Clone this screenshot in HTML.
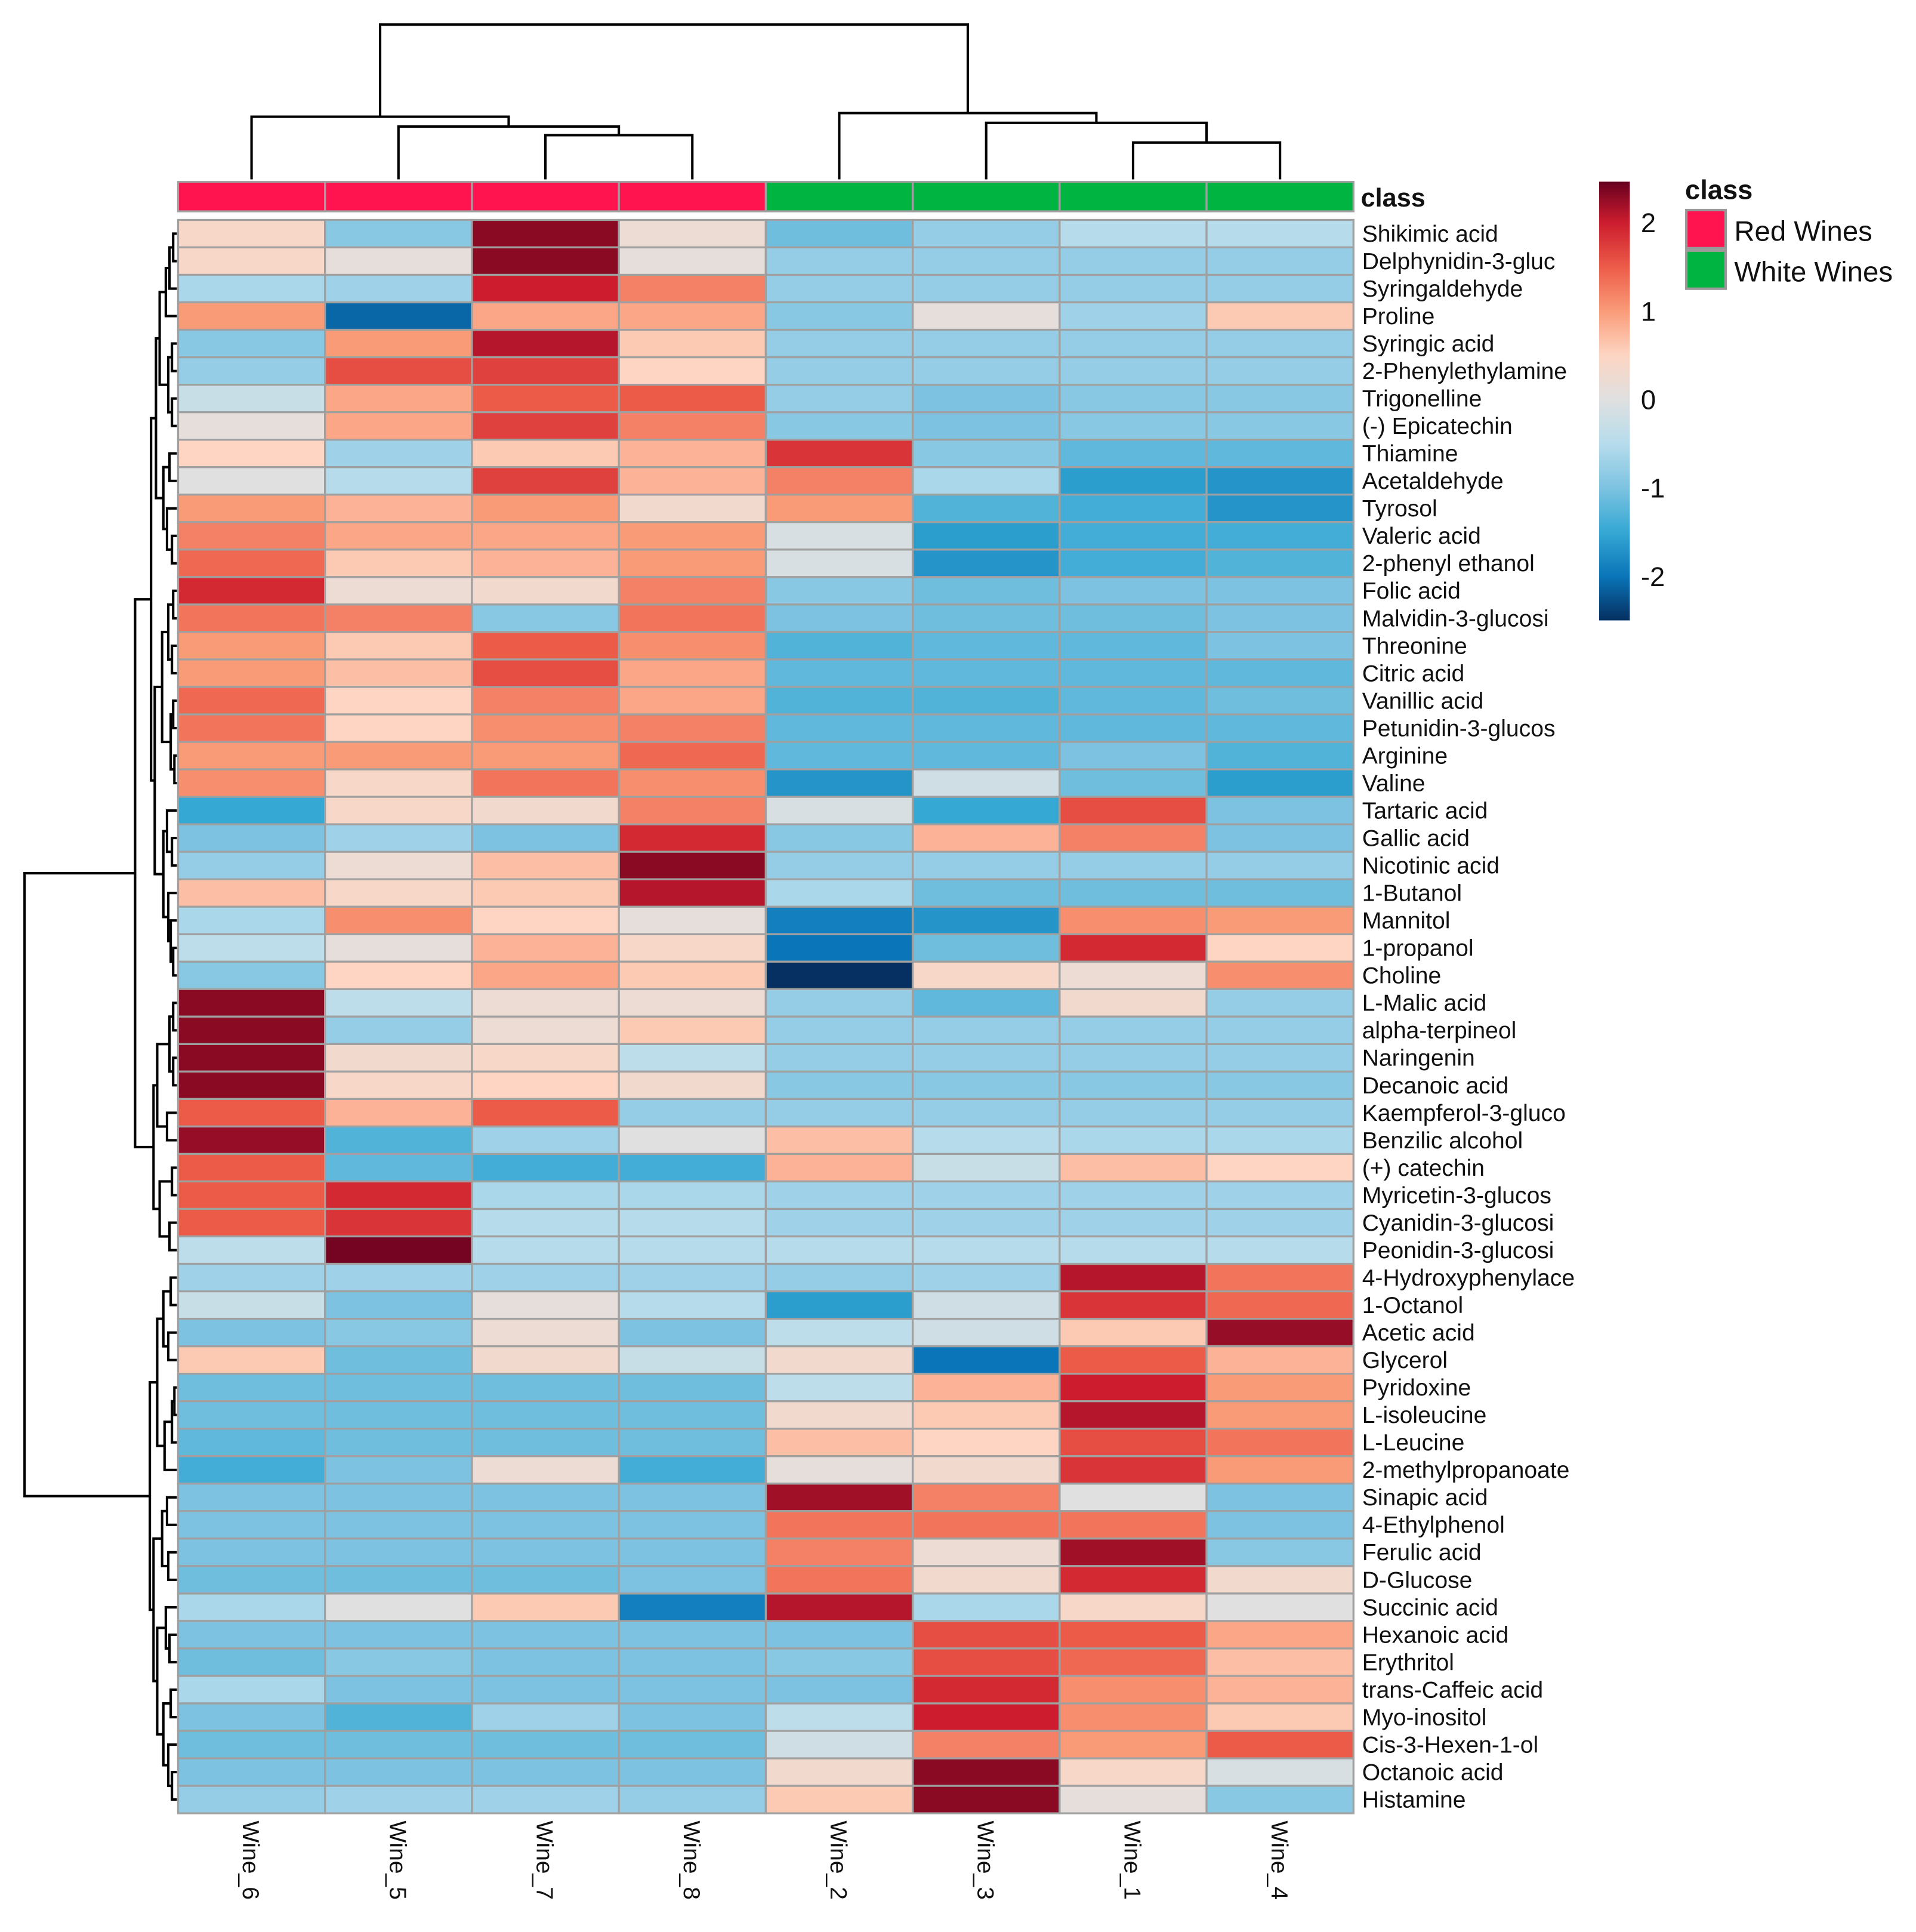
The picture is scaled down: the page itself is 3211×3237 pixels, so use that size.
<!DOCTYPE html>
<html><head><meta charset="utf-8"><title>Wine heatmap</title>
<style>html,body{margin:0;padding:0;background:#fff}svg{display:block}text{font-family:"Liberation Sans",sans-serif;fill:#111}</style>
</head><body>
<svg id="chart" width="3211" height="3237" viewBox="0 0 1560 1572.6" xmlns="http://www.w3.org/2000/svg">
<defs><linearGradient id="cbar" x1="0" y1="1" x2="0" y2="0"></linearGradient></defs>
<g id="dendro-rows"></g>
<g id="dendro-cols"></g>
<g id="classbar"></g>
<g id="cells"></g>
<g id="rowlabels"></g>
<g id="collabels"></g>
<text x="1108" y="168" font-size="21" font-weight="bold">class</text>
<g id="legend"></g>
<g>
<text x="1372" y="162" font-size="22" font-weight="bold">class</text>
<rect x="1373" y="171" width="32" height="31" fill="#FF1450" stroke="#999" stroke-width="2"/>
<rect x="1373" y="204" width="32" height="31" fill="#00B441" stroke="#999" stroke-width="2"/>
<text x="1412" y="196" font-size="23">Red Wines</text>
<text x="1412" y="229" font-size="23">White Wines</text>
</g>
</svg>
<script>
const columns = ["Wine_6","Wine_5","Wine_7","Wine_8","Wine_2","Wine_3","Wine_1","Wine_4"];
const classes = ["Red","Red","Red","Red","White","White","White","White"];
const rows = ["Shikimic acid","Delphynidin-3-gluc","Syringaldehyde","Proline","Syringic acid","2-Phenylethylamine","Trigonelline","(-) Epicatechin","Thiamine","Acetaldehyde","Tyrosol","Valeric acid","2-phenyl ethanol","Folic acid","Malvidin-3-glucosi","Threonine","Citric acid","Vanillic acid","Petunidin-3-glucos","Arginine","Valine","Tartaric acid","Gallic acid","Nicotinic acid","1-Butanol","Mannitol","1-propanol","Choline","L-Malic acid","alpha-terpineol","Naringenin","Decanoic acid","Kaempferol-3-gluco","Benzilic alcohol","(+) catechin","Myricetin-3-glucos","Cyanidin-3-glucosi","Peonidin-3-glucosi","4-Hydroxyphenylace","1-Octanol","Acetic acid","Glycerol","Pyridoxine","L-isoleucine","L-Leucine","2-methylpropanoate","Sinapic acid","4-Ethylphenol","Ferulic acid","D-Glucose","Succinic acid","Hexanoic acid","Erythritol","trans-Caffeic acid","Myo-inositol","Cis-3-Hexen-1-ol","Octanoic acid","Histamine"];
const values = [
[0.4,-0.9,2.3,0.2,-1.1,-0.8,-0.5,-0.5],
[0.4,0.1,2.3,0.1,-0.8,-0.8,-0.8,-0.8],
[-0.6,-0.7,2.0,1.2,-0.8,-0.8,-0.8,-0.8],
[1.0,-2.1,0.9,0.9,-0.9,0.1,-0.7,0.6],
[-0.9,1.0,2.1,0.6,-0.8,-0.8,-0.8,-0.8],
[-0.8,1.6,1.7,0.5,-0.8,-0.8,-0.8,-0.8],
[-0.3,0.9,1.5,1.5,-0.8,-1.0,-0.9,-0.9],
[0.1,0.9,1.7,1.2,-0.9,-1.0,-0.9,-0.9],
[0.5,-0.7,0.6,0.8,1.8,-0.9,-1.2,-1.2],
[0.0,-0.5,1.7,0.8,1.2,-0.6,-1.6,-1.7],
[1.0,0.8,1.0,0.3,1.0,-1.3,-1.4,-1.7],
[1.2,0.9,0.9,1.0,-0.1,-1.6,-1.4,-1.4],
[1.4,0.6,0.8,1.0,-0.1,-1.7,-1.4,-1.3],
[1.9,0.2,0.3,1.2,-0.9,-1.1,-1.0,-1.0],
[1.3,1.2,-0.9,1.3,-1.0,-1.1,-1.1,-1.0],
[1.0,0.6,1.5,1.1,-1.3,-1.2,-1.2,-1.0],
[1.0,0.7,1.6,0.9,-1.2,-1.2,-1.2,-1.2],
[1.4,0.5,1.2,0.9,-1.3,-1.3,-1.2,-1.1],
[1.3,0.5,1.1,1.2,-1.2,-1.2,-1.2,-1.2],
[1.0,1.0,1.0,1.4,-1.2,-1.2,-1.0,-1.3],
[1.1,0.4,1.3,1.1,-1.7,-0.2,-1.1,-1.6],
[-1.5,0.4,0.3,1.2,-0.1,-1.5,1.6,-1.0],
[-1.0,-0.7,-1.0,1.9,-0.9,0.8,1.2,-1.0],
[-0.8,0.2,0.7,2.3,-0.8,-0.8,-0.8,-0.8],
[0.7,0.4,0.6,2.1,-0.6,-1.1,-1.1,-1.1],
[-0.6,1.1,0.5,0.1,-1.9,-1.7,1.1,1.0],
[-0.4,0.1,0.8,0.4,-2.0,-1.1,1.9,0.5],
[-0.9,0.5,0.9,0.6,-2.5,0.4,0.2,1.1],
[2.3,-0.4,0.2,0.2,-0.8,-1.2,0.3,-0.8],
[2.3,-0.8,0.2,0.6,-0.8,-0.8,-0.8,-0.8],
[2.3,0.3,0.4,-0.4,-0.8,-0.8,-0.8,-0.8],
[2.3,0.4,0.5,0.3,-0.9,-0.9,-0.9,-0.9],
[1.5,0.8,1.5,-0.8,-0.8,-0.8,-0.8,-0.8],
[2.25,-1.3,-0.7,0.0,0.7,-0.5,-0.6,-0.6],
[1.5,-1.2,-1.4,-1.4,0.8,-0.3,0.7,0.5],
[1.5,1.9,-0.6,-0.6,-0.7,-0.7,-0.7,-0.7],
[1.5,1.8,-0.5,-0.5,-0.7,-0.7,-0.7,-0.7],
[-0.4,2.4,-0.5,-0.5,-0.5,-0.5,-0.5,-0.5],
[-0.7,-0.7,-0.7,-0.7,-0.8,-0.7,2.1,1.3],
[-0.3,-1.0,0.1,-0.5,-1.6,-0.2,1.8,1.4],
[-1.0,-0.9,0.2,-1.0,-0.4,-0.2,0.6,2.25],
[0.6,-1.1,0.3,-0.3,0.3,-2.0,1.5,0.8],
[-1.1,-1.1,-1.1,-1.1,-0.4,0.8,2.0,1.0],
[-1.1,-1.1,-1.1,-1.1,0.3,0.6,2.1,1.0],
[-1.2,-1.1,-1.1,-1.1,0.7,0.5,1.6,1.3],
[-1.4,-1.0,0.2,-1.4,0.1,0.3,1.8,1.0],
[-1.0,-1.0,-1.0,-1.0,2.2,1.2,0.0,-1.0],
[-1.0,-1.0,-1.0,-1.0,1.3,1.3,1.3,-1.0],
[-1.0,-1.0,-1.0,-1.0,1.2,0.2,2.2,-0.9],
[-1.1,-1.1,-1.1,-1.0,1.3,0.3,1.9,0.3],
[-0.6,0.0,0.6,-1.9,2.1,-0.6,0.4,0.0],
[-1.0,-1.0,-1.0,-1.0,-1.0,1.6,1.5,0.9],
[-1.1,-0.9,-1.0,-1.0,-0.9,1.6,1.4,0.7],
[-0.6,-1.0,-1.0,-1.0,-1.0,1.9,1.1,0.8],
[-1.0,-1.3,-0.7,-1.0,-0.4,2.0,1.1,0.6],
[-1.1,-1.1,-1.1,-1.1,-0.2,1.2,1.0,1.5],
[-1.0,-1.0,-1.0,-1.0,0.3,2.3,0.4,-0.1],
[-0.8,-0.7,-0.7,-0.8,0.6,2.3,0.1,-0.9]
];
const legendTicks = [2,1,0,-1,-2];
// column tree: [height, left, right]; leaves are column indices
const colTree = [20,[95,0,[103,1,[110,2,3]]],[92,4,[100,5,[116,6,7]]]];
const rowTree = [20,
 [110,
  [123,
   [127,[130,[135,[138,[141,0,1],2],3],[137,[140,4,5],[140,6,7]]],[133,[138,8,9],[136,10,[140,11,12]]]],
   [126,[132,[137,[141,13,14],[140,15,16]],[139,[141,17,18],[142,19,20]]],[133,[136,21,[140,22,23]],[137,24,[139,25,[141,26,27]]]]]],
  [125,[128,[138,[141,28,29],[141,30,31]],[136,32,33]],[130,[140,34,35],[138,36,37]]]],
 [122,[128,[133,[139,38,39],[137,40,41]],[134,[140,[142,42,43],44],45]],
  [125,[132,[136,46,47],[137,48,49]],[128,[135,50,[138,51,52]],[133,[139,53,54],[137,55,[140,56,57]]]]]]];

const NS="http://www.w3.org/2000/svg";
const X0=145,X1=1102,Y0=179,Y1=1476;
const cw=(X1-X0)/columns.length, rh=(Y1-Y0)/rows.length;
const xPos=i=>X0+i*cw, yPos=j=>Y0+j*rh;
const stops=[[-2.5,"#053061"],[-2,"#0A75B8"],[-1.5,"#35A8D4"],[-1,"#7DC3E1"],[-0.5,"#B6DCEC"],[0,"#E0E0E0"],[0.5,"#FDD5C2"],[1,"#FA9B78"],[1.5,"#EC5B48"],[2,"#CC1C2E"],[2.46,"#67001F"]];
function hex(c){return [1,3,5].map(k=>parseInt(c.substr(k,2),16));}
function color(v){
 if(v<=stops[0][0])return stops[0][1];
 for(let k=1;k<stops.length;k++){if(v<=stops[k][0]){const a=stops[k-1],b=stops[k];const t=(v-a[0])/(b[0]-a[0]);const ca=hex(a[1]),cb=hex(b[1]);return "rgb("+ca.map((x,i)=>Math.round(x+(cb[i]-x)*t)).join(",")+")";}}
 return stops[stops.length-1][1];
}
const legY=v=>325-72*v;
function mk(tag,attrs,parent){const e=document.createElementNS(NS,tag);for(const k in attrs)e.setAttribute(k,attrs[k]);parent.appendChild(e);return e;}

const cells=document.getElementById('cells');
values.forEach((row,j)=>row.forEach((v,i)=>{
 const r=mk('rect',{x:xPos(i),y:yPos(j),width:cw,height:rh,fill:color(v),stroke:"#A0A0A0","stroke-width":1.6},cells);
 
 
}));
const rl=document.getElementById('rowlabels');
rows.forEach((n,j)=>{const t=mk('text',{x:1109,y:yPos(j)+rh/2+6.5,"font-size":19},rl);t.textContent=n;
 
 });
const cl=document.getElementById('collabels');
columns.forEach((n,i)=>{const cx=xPos(i)+cw/2;const t=mk('text',{transform:`translate(${cx-7},1482) rotate(90)`,"font-size":19},cl);t.textContent=n;
 
 });
const cb=document.getElementById('classbar');
classes.forEach((c,i)=>{const r=mk('rect',{x:xPos(i),y:148,width:cw,height:24,fill:c==="Red"?"#FF1450":"#00B441",stroke:"#A0A0A0","stroke-width":1.6},cb);
 
 });

function drawTree(node,g,leafPos,leafDepth,horizontal){
 if(typeof node==="number")return [leafPos(node),leafDepth];
 const [h,a,b]=node;
 const A=drawTree(a,g,leafPos,leafDepth,horizontal),B=drawTree(b,g,leafPos,leafDepth,horizontal);
 let d;
 if(horizontal) d=`M${A[1]},${A[0]}H${h}V${B[0]}H${B[1]}`;
 else d=`M${A[0]},${A[1]}V${h}H${B[0]}V${B[1]}`;
 const p=mk('path',{d:d,fill:"none",stroke:"#000","stroke-width":2},g);
 
 
 return [(A[0]+B[0])/2,h];
}
drawTree(colTree,document.getElementById('dendro-cols'),i=>xPos(i)+cw/2,146,false);
drawTree(rowTree,document.getElementById('dendro-rows'),j=>yPos(j)+rh/2,144,true);

const grad=document.getElementById('cbar');
stops.forEach(s=>{mk('stop',{offset:((s[0]+2.5)/4.96*100)+"%","stop-color":s[1]},grad);});
const lg=document.getElementById('legend');
const lr=mk('rect',{x:1302,y:legY(2.46),width:25,height:legY(-2.5)-legY(2.46),fill:"url(#cbar)"},lg);


legendTicks.forEach(v=>{const t=mk('text',{x:1336,y:legY(v)+8,"font-size":22},lg);t.textContent=String(v);
 
 });
</script>
</body></html>
